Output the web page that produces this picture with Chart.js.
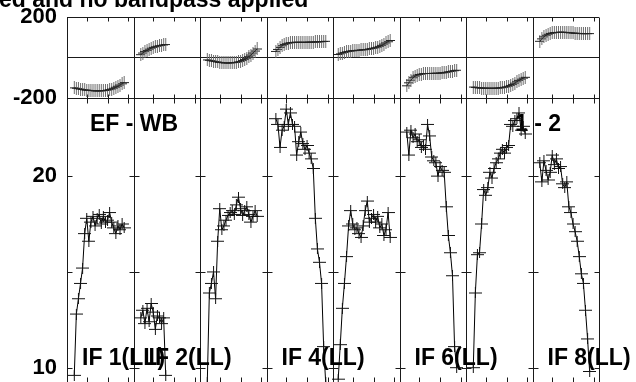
<!DOCTYPE html>
<html>
<head>
<meta charset="utf-8">
<script src="https://cdn.jsdelivr.net/npm/chart.js@4.4.0/dist/chart.umd.min.js"></script>
<style>
html, body { margin: 0; padding: 0; background: #fff; overflow: hidden; }
#wrap { position: relative; width: 636px; height: 382px; overflow: hidden; }
#possm { position: absolute; left: 0; top: 0; }
</style>
</head>
<body>
<div id="wrap"><canvas id="possm" width="636" height="396"></canvas></div>
<script>
// channels per IF, first channel with data in each IF
var nChan = 32;
var startChan = [4, 4, 4, 5, 3, 4, 4, 4];
var ifNames = ['IF 1(LL)', 'IF 2(LL)', 'IF 3(LL)', 'IF 4(LL)', 'IF 5(LL)', 'IF 6(LL)', 'IF 7(LL)', 'IF 8(LL)'];
var ifLabelShown = [true, true, false, true, false, true, false, true];

// amplitude per IF
var ampIF1 = [9.6, 12.8, 13.6, 14.4, 15.2, 17.0, 17.8, 16.6, 17.6, 17.9, 17.4, 17.8, 18.0, 17.5, 17.9, 17.6, 17.7, 18.1, 17.6, 17.3, 17.0, 17.4, 17.2, 17.5, 17.3];
var ampIF2 = [12.6, 13.0, 12.3, 13.1, 12.4, 13.35, 12.9, 12.0, 12.7, 12.6, 12.3, 12.6, 9.6];
var ampIF3 = [9.2, 13.9, 14.4, 15.0, 13.6, 16.6, 18.3, 17.2, 17.4, 17.7, 17.95, 18.1, 18.2, 18.0, 18.5, 18.9, 18.3, 17.95, 18.2, 18.4, 18.0, 17.6, 17.9, 18.2, 17.9];
var ampIF4 = [23.0, 22.7, 21.5, 22.4, 22.6, 23.5, 22.7, 23.3, 22.7, 22.6, 21.1, 21.8, 22.3, 21.7, 21.4, 21.6, 21.2, 20.9, 20.4, 17.8, 16.2, 15.5, 14.4, 11.1, 9.2];
var ampIF5 = [9.4, 11.2, 13.1, 14.4, 15.8, 17.4, 18.2, 17.5, 17.2, 17.3, 17.0, 16.8, 17.4, 18.2, 18.7, 17.6, 17.8, 18.0, 17.6, 17.9, 17.3, 17.5, 16.9, 17.2, 18.1, 16.8];
var ampIF6 = [22.3, 21.1, 22.4, 22.0, 22.2, 21.8, 21.9, 21.5, 21.6, 21.4, 22.7, 22.1, 21.0, 20.8, 20.7, 20.0, 20.5, 20.3, 20.2, 18.4, 16.9, 16.0, 14.8, 11.1, 10.0];
var ampIF7 = [10.0, 13.9, 15.9, 16.0, 17.5, 19.3, 19.0, 19.4, 20.2, 19.9, 20.4, 20.7, 20.9, 21.2, 21.4, 21.2, 21.5, 21.6, 22.7, 22.6, 22.9, 23.0, 23.3, 22.4, 22.6, 22.2];
var ampIF8 = [20.7, 19.7, 20.8, 20.3, 19.8, 20.2, 21.1, 20.6, 20.9, 20.4, 20.5, 19.6, 19.4, 19.7, 18.4, 18.1, 17.5, 17.1, 16.6, 15.8, 14.9, 14.4, 13.0, 11.5, 9.8];

// phase per IF (degrees)
var phIF1 = [-150, -152, -154, -156, -158, -160, -161, -162, -163, -164, -165, -165, -165, -165, -164, -163, -161, -159, -156, -152, -147, -142, -136, -130, -124];
var phIF2 = [14, 22, 29, 35, 41, 46, 50, 53, 56, 58, 60, 62, 64];
var phIF3 = [-12, -14, -16, -18, -20, -22, -24, -25, -26, -27, -27, -27, -26, -25, -24, -22, -19, -15, -10, -4, 4, 12, 22, 32, 42];
var phIF4 = [30, 40, 50, 58, 64, 68, 71, 73, 74, 75, 75, 75, 75, 75, 75, 75, 76, 76, 76, 77, 77, 78, 78, 79, 80];
var phIF5 = [15, 18, 22, 25, 28, 30, 32, 33, 34, 35, 36, 37, 38, 39, 40, 42, 44, 46, 48, 51, 55, 60, 66, 72, 78, 84];
var phIF6 = [-140, -125, -112, -100, -92, -87, -84, -82, -80, -79, -79, -79, -79, -78, -78, -78, -77, -76, -75, -73, -71, -69, -67, -65, -63];
var phIF7 = [-146, -148, -149, -150, -151, -151, -152, -152, -152, -152, -152, -152, -151, -150, -149, -147, -145, -142, -138, -133, -127, -120, -113, -107, -102, -98];
var phIF8 = [80, 92, 102, 110, 115, 119, 121, 123, 124, 124, 125, 125, 124, 124, 123, 122, 121, 120, 119, 119, 118, 118, 118, 118, 118];

var phaseTicks = [-200, 200];
var ampTicks = [10, 20];
var ampMinorTicks = [10, 15, 20];
var chanTicks = [10, 20, 30];

var ampAll = [ampIF1, ampIF2, ampIF3, ampIF4, ampIF5, ampIF6, ampIF7, ampIF8];
var phAll = [phIF1, phIF2, phIF3, phIF4, phIF5, phIF6, phIF7, phIF8];

var labelFont = 'bold 23px "Liberation Sans", Arial, sans-serif';

function makeCross(w, h, colV, colH) {
    var c = document.createElement('canvas');
    c.width = w;
    c.height = h;
    var g = c.getContext('2d');
    g.lineWidth = 1;
    g.strokeStyle = colV;
    g.beginPath();
    g.moveTo(Math.floor(w / 2) + 0.5, 0);
    g.lineTo(Math.floor(w / 2) + 0.5, h);
    g.stroke();
    g.strokeStyle = colH;
    g.beginPath();
    g.moveTo(0, Math.floor(h / 2) + 0.5);
    g.lineTo(w, Math.floor(h / 2) + 0.5);
    g.stroke();
    return c;
}
var phaseMark = makeCross(9, 13, '#6e6e6e', '#222');
var ampMark = makeCross(13, 11, '#111', '#111');

function toPoints(vals, i) {
    return vals.map(function (v, j) {
        return { x: i * nChan + startChan[i] + j, y: v };
    });
}

var datasets = [];
for (var i = 0; i < 8; i++) {
    datasets.push({
        label: ifNames[i] + ' phase',
        data: toPoints(phAll[i], i),
        yAxisID: 'yPh',
        borderColor: '#000',
        borderWidth: 1,
        pointStyle: phaseMark,
        pointRadius: 5,
        tension: 0
    });
    datasets.push({
        label: ifNames[i] + ' amp',
        data: toPoints(ampAll[i], i),
        yAxisID: 'yAmp',
        borderColor: '#000',
        borderWidth: 1,
        pointStyle: ampMark,
        pointRadius: 5,
        tension: 0
    });
}

function seg(ctx, x0, y0, x1, y1) {
    ctx.beginPath();
    ctx.moveTo(x0, y0);
    ctx.lineTo(x1, y1);
    ctx.stroke();
}

var framePlugin = {
    id: 'frame',
    beforeDatasetsDraw: function (chart) {
        var ctx = chart.ctx;
        var xs = chart.scales.x, yp = chart.scales.yPh, ya = chart.scales.yAmp;
        var left = chart.chartArea.left, right = chart.chartArea.right;
        var top = Math.round(yp.top) + 0.5;
        var mid = Math.round(yp.bottom) + 0.5;
        var zero = Math.round(yp.getPixelForValue(0)) + 0.5;
        var bot = Math.round(ya.bottom) - 0.5;
        ctx.save();
        ctx.strokeStyle = '#1a1a1a';
        ctx.lineWidth = 1;
        seg(ctx, left, top, right, top);
        seg(ctx, left, mid, right, mid);
        seg(ctx, left, zero, right, zero);
        seg(ctx, left, bot, right, bot);
        for (var k = 0; k <= 8; k++) {
            var px = Math.round(xs.getPixelForValue(k * nChan + 0.5)) + 0.5;
            seg(ctx, px, top, px, bot);
            ampMinorTicks.forEach(function (v) {
                var py = Math.round(ya.getPixelForValue(v)) + 0.5;
                seg(ctx, k === 0 ? px : px - 5, py, k === 8 ? px : px + 5, py);
            });
            if (k < 8) {
                chanTicks.forEach(function (c) {
                    var tx = Math.round(xs.getPixelForValue(k * nChan + c)) + 0.5;
                    seg(ctx, tx, top, tx, top + 4);
                    seg(ctx, tx, mid - 4, tx, mid + 5);
                    seg(ctx, tx, bot - 5, tx, bot);
                });
            }
        }
        // texts
        ctx.fillStyle = '#000';
        ctx.font = labelFont;
        ctx.textBaseline = 'alphabetic';
        ctx.textAlign = 'left';
        ctx.fillText('ed and no bandpass applied', -1, 7);
        ctx.fillText('EF - WB', 90, 131);
        ctx.fillText('1 - 2', 515, 131);
        for (var n = 0; n < 8; n++) {
            if (!ifLabelShown[n]) continue;
            var lx = xs.getPixelForValue(n * nChan + 0.5) + 15;
            ctx.fillText(ifNames[n], lx, 365);
        }
        ctx.restore();
    }
};

var tickFont = { family: '"Liberation Sans", Arial, sans-serif', size: 22, weight: 'bold' };
// invisible tick marks push the labels 10px left of the axis
var hiddenGrid = { display: true, drawOnChartArea: false, drawTicks: true, tickLength: 10, color: 'rgba(0,0,0,0)' };

var ctx = document.getElementById('possm').getContext('2d');
var possmChart = new Chart(ctx, {
    type: 'line',
    data: { datasets: datasets },
    options: {
        responsive: false,
        animation: false,
        events: [],
        layout: { padding: { left: 0, right: 37, top: 17, bottom: 13 } },
        plugins: { legend: { display: false }, tooltip: { enabled: false } },
        scales: {
            x: { type: 'linear', min: 0.5, max: 256.5, display: false },
            // left-side stacks are placed in reverse order, so amplitude comes first
            yAmp: {
                type: 'linear', position: 'left', stack: 'possm', stackWeight: 285,
                min: 9.21, max: 24.08,
                afterBuildTicks: function (s) { s.ticks = ampTicks.map(function (v) { return { value: v }; }); },
                afterFit: function (s) { s.width = 67; },
                grid: hiddenGrid,
                border: { display: false },
                ticks: { font: tickFont, color: '#000', padding: 0 }
            },
            yPh: {
                type: 'linear', position: 'left', stack: 'possm', stackWeight: 81,
                min: -200, max: 200,
                afterBuildTicks: function (s) { s.ticks = phaseTicks.map(function (v) { return { value: v }; }); },
                afterFit: function (s) { s.width = 67; },
                grid: hiddenGrid,
                border: { display: false },
                ticks: { font: tickFont, color: '#000', padding: 0 }
            }
        }
    },
    plugins: [framePlugin]
});
</script>
</body>
</html>
